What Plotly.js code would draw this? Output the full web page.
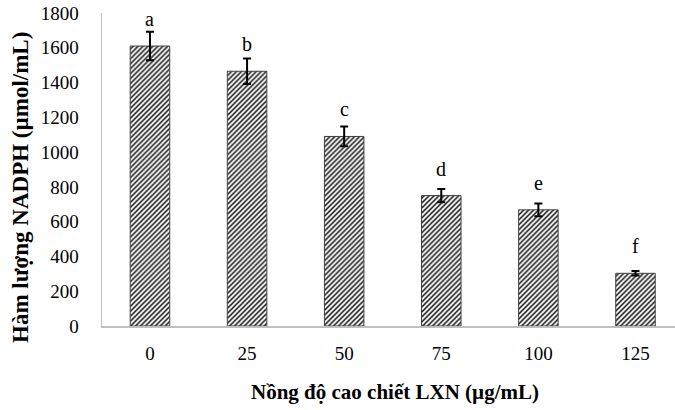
<!DOCTYPE html>
<html>
<head>
<meta charset="utf-8">
<script src="https://cdn.plot.ly/plotly-3.0.1.min.js"></script>
<style>html,body{margin:0;padding:0;background:#fff;}#chart{width:675px;height:410px;}</style>
</head>
<body>
<div id="chart"></div>
<script>
const categories = ['0', '25', '50', '75', '100', '125'];
const nadph = [1610, 1465, 1090, 750, 668, 303];
const sdErr = [82, 73, 57, 38, 37, 13];
const sigLetters = ['a', 'b', 'c', 'd', 'e', 'f'];
const xTitle = 'Nồng độ cao chiết LXN (µg/mL)';
const yTitle = 'Hàm lượng NADPH (µmol/mL)';

const serif = 'Liberation Serif, Times New Roman, serif';

const trace = {
  type: 'bar',
  x: categories,
  y: nadph,
  marker: {
    color: '#ffffff',
    line: {color: '#404040', width: 1},
    pattern: {shape: '/', fgcolor: '#000000', bgcolor: '#ffffff', size: 3.5, solidity: 0.4}
  },
  error_y: {type: 'data', array: sdErr, visible: true, color: '#000000', thickness: 2, width: 4},
  hoverinfo: 'skip'
};

const annotations = categories.map((c, i) => ({
  x: i, y: nadph[i], xref: 'x', yref: 'y', text: sigLetters[i], showarrow: false,
  yanchor: 'middle', yshift: 27,
  font: {family: serif, size: 20, color: '#000'}
}));

annotations.push({
  xref: 'paper', yref: 'paper', x: 0, y: 0.441, xanchor: 'center', yanchor: 'middle',
  xshift: -81, textangle: -90, showarrow: false,
  text: '<b>' + yTitle + '</b>',
  font: {family: serif, size: 23, color: '#000'}
});
annotations.push({
  xref: 'paper', yref: 'paper', x: 0.5, y: -0.211, xanchor: 'center', yanchor: 'middle',
  xshift: 6, showarrow: false,
  text: '<b>' + xTitle + '</b>',
  font: {family: serif, size: 21, color: '#000'}
});

const layout = {
  width: 675, height: 410,
  margin: {l: 102, r: 0, t: 13, b: 84},
  paper_bgcolor: '#fff', plot_bgcolor: '#fff',
  showlegend: false,
  bargap: 0.593,
  xaxis: {
    type: 'category',
    range: [-0.494, 5.407],
    showline: true, linecolor: '#bfbfbf', linewidth: 1.5,
    showgrid: false, zeroline: false, ticks: '',
    ticklabelstandoff: 10,
    tickfont: {family: serif, size: 19, color: '#000'}
  },
  yaxis: {
    range: [0, 1800],
    tickvals: [0, 200, 400, 600, 800, 1000, 1200, 1400, 1600, 1800],
    showline: true, linecolor: '#bfbfbf', linewidth: 1.5,
    showgrid: false, zeroline: false, ticks: '',
    ticklabelstandoff: 18,
    tickfont: {family: serif, size: 19, color: '#000'}
  },
  annotations: annotations
};

Plotly.newPlot('chart', [trace], layout, {displayModeBar: false, staticPlot: true});
</script>
</body>
</html>
